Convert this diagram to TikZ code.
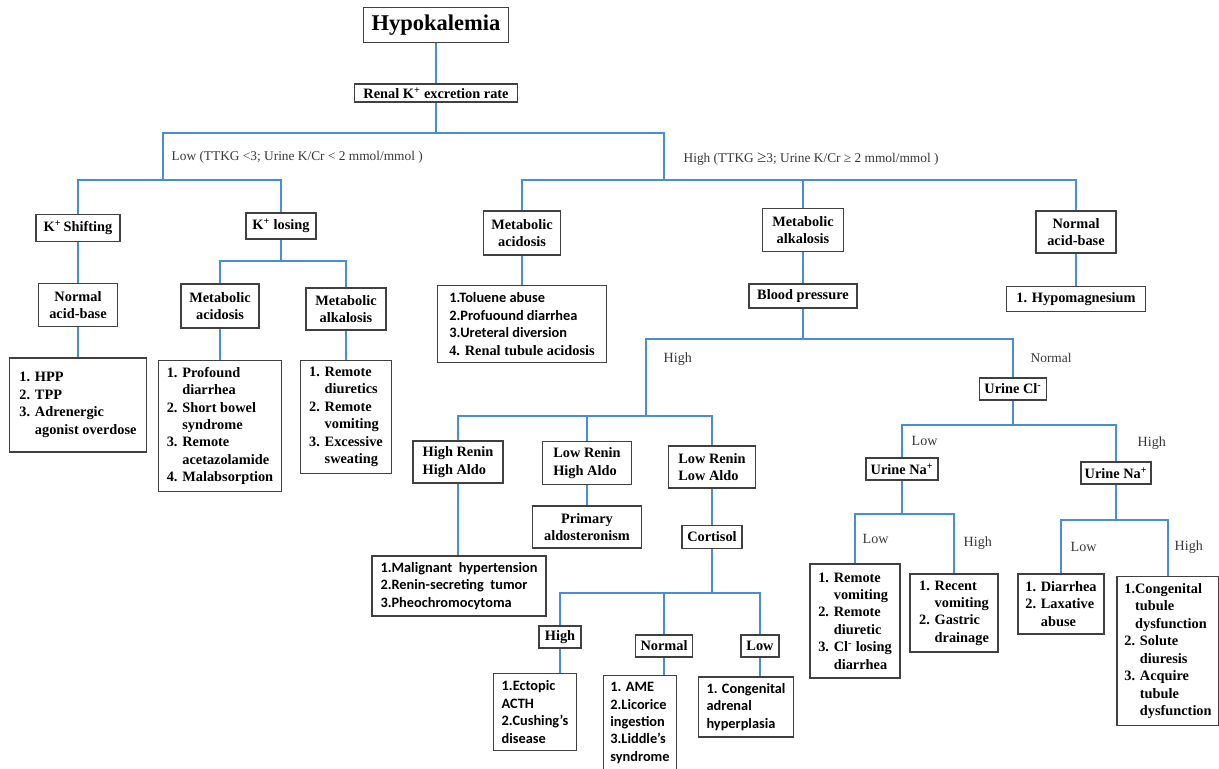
\documentclass[tikz,border=0pt]{standalone}
\usepackage{fontspec}
\setmainfont{Liberation Serif}
\newfontfamily\calib{Carlito}
\definecolor{linkblue}{RGB}{72,142,212}
\definecolor{boxgray}{RGB}{64,64,64}
\definecolor{labelgray}{RGB}{55,55,55}
\tikzset{
  link/.style={draw=linkblue, line width=1.3pt},
  headbox/.style={draw=boxgray, line width=1.1pt, fill=white, align=center, inner sep=2pt, font=\bfseries\fontsize{10.2}{12.4}\selectfont},
  listbox/.style={headbox, align=left},
  sanslist/.style={listbox, font=\calib\bfseries\fontsize{10.2}{12.4}\selectfont},
  branchlabel/.style={font=\fontsize{10}{12}\selectfont, text=labelgray, inner sep=1pt, anchor=west},
  toplabel/.style={branchlabel, font=\fontsize{9.5}{11}\selectfont}
}

\begin{document}
\begin{tikzpicture}[x=0.025cm, y=-0.025cm]
  \useasboundingbox (0,0) rectangle (1219,769);

  % top of the tree
  \node[headbox, minimum width=3.63cm, minimum height=0.88cm, font=\bfseries\fontsize{16}{19}\selectfont] (hypo) at (436,25) {Hypokalemia};
  \node[headbox, minimum width=4.08cm, minimum height=0.45cm, inner sep=1pt] (renal) at (436,93) {Renal K\textsuperscript{+} excretion rate};
  \coordinate (lowj) at (163,180);
  \coordinate (highj) at (664,180);
  \node[toplabel] (lowlbl) at (170,157) {Low (TTKG <3; Urine K/Cr < 2 mmol/mmol )};
  \node[toplabel] (highlbl) at (682,159) {High (TTKG {\large ≥}3; Urine K/Cr ≥ 2 mmol/mmol )};

  % low excretion side
  \node[headbox, minimum width=2.1cm, minimum height=0.68cm] (kshift) at (78,228) {K\textsuperscript{+}\,Shifting};
  \node[headbox, minimum width=1.75cm, minimum height=0.65cm] (klose) at (281,226) {K\textsuperscript{+} losing};
  \node[headbox, minimum width=1.98cm, minimum height=1.08cm] (nab1) at (78,305) {Normal\\acid-base};
  \node[headbox, minimum width=1.95cm, minimum height=1.1cm] (macid1) at (220,306) {Metabolic\\acidosis};
  \node[headbox, minimum width=2.0cm, minimum height=1.05cm] (malk1) at (346,309) {Metabolic\\alkalosis};
  \node[listbox, minimum width=3.43cm, minimum height=2.35cm] (hpp) at (78,405)
    {1. HPP\\2. TPP\\3. Adrenergic\\\phantom{3. }agonist overdose};
  \node[listbox, minimum width=3.08cm, minimum height=3.28cm] (prof) at (220,426)
    {1. Profound\\\phantom{1. }diarrhea\\2. Short bowel\\\phantom{2. }syndrome\\3. Remote\\\phantom{3. }acetazolamide\\4. Malabsorption};
  \node[listbox, minimum width=2.28cm, minimum height=2.83cm] (remdiur) at (346,417)
    {1. Remote\\\phantom{1. }diuretics\\2. Remote\\\phantom{2. }vomiting\\3. Excessive\\\phantom{3. }sweating};

  % high excretion side
  \node[headbox, minimum width=1.93cm, minimum height=1.1cm] (macid2) at (522,233) {Metabolic\\acidosis};
  \node[listbox, minimum width=4.23cm, minimum height=1.93cm] (toluene) at (522,324)
    {{\calib 1.Toluene abuse}\\{\calib 2.Profuound diarrhea}\\{\calib 3.Ureteral diversion}\\4. Renal tubule acidosis};
  \node[headbox, minimum width=2.03cm, minimum height=1.08cm] (malk2) at (803,230) {Metabolic\\alkalosis};
  \node[headbox, minimum width=2.7cm, minimum height=0.6cm] (bp) at (803,296) {Blood pressure};
  \node[headbox, minimum width=2.0cm, minimum height=1.05cm] (nab2) at (1076,232) {Normal\\acid-base};
  \node[headbox, minimum width=3.48cm, minimum height=0.63cm] (hypomg) at (1076,299) {1. Hypomagnesium};

  % blood pressure high
  \coordinate (reninj) at (646,416);
  \node[branchlabel] (bphigh) at (662,359) {High};
  \node[listbox, minimum width=2.25cm, minimum height=1.05cm] (hrha) at (458,462) {High Renin\\High Aldo};
  \node[listbox, minimum width=2.23cm, minimum height=1.08cm] (lrha) at (587,463) {Low Renin\\High Aldo};
  \node[listbox, minimum width=2.18cm, minimum height=1.05cm] (lrla) at (712,467) {Low Renin\\Low Aldo};
  \node[headbox, minimum width=2.73cm, minimum height=1.05cm] (primary) at (587,527) {Primary\\aldosteronism};
  \node[headbox, minimum width=1.5cm, minimum height=0.58cm] (cortisol) at (712,537) {Cortisol};
  \node[sanslist, minimum width=4.35cm, minimum height=1.5cm] (malig) at (459,586)
    {1.Malignant~ hypertension\\2.Renin-secreting~ tumor\\3.Pheochromocytoma};
  \node[headbox, minimum width=1.05cm, minimum height=0.55cm] (chigh) at (560,637) {High};
  \node[headbox, minimum width=1.43cm, minimum height=0.55cm] (cnorm) at (664,646) {Normal};
  \node[headbox, minimum width=0.95cm, minimum height=0.55cm] (clow) at (760,646) {Low};
  \node[sanslist, minimum width=2.08cm, minimum height=1.93cm] (ectopic) at (535,712)
    {1.Ectopic\\ACTH\\2.Cushing’s\\disease};
  \node[sanslist, minimum width=1.83cm, minimum height=2.38cm] (ame) at (640,723)
    {1. AME\\2.Licorice\\ingestion\\3.Liddle’s\\syndrome};
  \node[sanslist, minimum width=2.38cm, minimum height=1.5cm] (cah) at (746,707)
    {1. Congenital\\adrenal\\hyperplasia};

  % blood pressure normal
  \node[branchlabel, font=\fontsize{9.5}{11}\selectfont] (bpnorm) at (1029,358) {Normal};
  \node[headbox, minimum width=1.68cm, minimum height=0.55cm] (ucl) at (1013,389) {Urine Cl\textsuperscript{-}};
  \node[branchlabel] (cllow) at (910,441) {Low};
  \node[branchlabel] (clhigh) at (1136,443) {High};
  \node[headbox, minimum width=1.8cm, minimum height=0.55cm] (una1) at (902,469) {Urine Na\textsuperscript{+}};
  \node[headbox, minimum width=1.75cm, minimum height=0.55cm] (una2) at (1116,473) {Urine Na\textsuperscript{+}};
  \node[branchlabel] (na1low) at (861,539) {Low};
  \node[branchlabel] (na1high) at (962,543) {High};
  \node[branchlabel] (na2low) at (1069,547) {Low};
  \node[branchlabel] (na2high) at (1173,547) {High};
  \node[listbox, minimum width=2.25cm, minimum height=2.85cm] (remvom) at (855,621)
    {1. Remote\\\phantom{1. }vomiting\\2. Remote\\\phantom{2. }diuretic\\3. Cl\textsuperscript{-} losing\\\phantom{3. }diarrhea};
  \node[listbox, minimum width=2.2cm, minimum height=1.95cm] (recvom) at (954,613)
    {1. Recent\\\phantom{1. }vomiting\\2. Gastric\\\phantom{2. }drainage};
  \node[listbox, minimum width=2.15cm, minimum height=1.5cm] (diarr) at (1061,604)
    {1. Diarrhea\\2. Laxative\\\phantom{2. }abuse};
  \node[listbox, minimum width=2.55cm, minimum height=3.73cm] (congtub) at (1168,651)
    {1.Congenital\\\phantom{1.}tubule\\\phantom{1.}dysfunction\\2. Solute\\\phantom{2. }diuresis\\3. Acquire\\\phantom{3. }tubule\\\phantom{3. }dysfunction};

  % connectors
  \draw[link] (hypo) -- (renal);
  \draw[link] (renal.south) -- ++(0,30) -| (lowj);
  \draw[link] (renal.south) -- ++(0,30) -| (highj);
  \foreach \ch in {kshift,klose} \draw[link] (lowj) -| (\ch.north);
  \foreach \ch in {macid2,malk2,nab2} \draw[link] (highj) -| (\ch.north);
  \draw[link] (kshift.south) -- (kshift.south |- nab1.north);
  \draw[link] (nab1.south) -- (nab1.south |- hpp.north);
  \foreach \ch in {macid1,malk1} \draw[link] (klose.south) -- ++(0,21) -| (\ch.north);
  \draw[link] (macid1.south) -- (macid1.south |- prof.north);
  \draw[link] (malk1.south) -- (malk1.south |- remdiur.north);
  \draw[link] (macid2.south) -- (macid2.south |- toluene.north);
  \draw[link] (malk2.south) -- (malk2.south |- bp.north);
  \draw[link] (nab2.south) -- (nab2.south |- hypomg.north);
  \draw[link] (bp.south) -- ++(0,30) -| (reninj);
  \draw[link] (bp.south) -- ++(0,30) -| (ucl.north);
  \foreach \ch in {hrha,lrha,lrla} \draw[link] (reninj) -| (\ch.north);
  \draw[link] (hrha.south) -- (hrha.south |- malig.north);
  \draw[link] (lrha.south) -- (lrha.south |- primary.north);
  \draw[link] (lrla.south) -- (lrla.south |- cortisol.north);
  \foreach \ch in {chigh,cnorm,clow} \draw[link] (cortisol.south) -- ++(0,44) -| (\ch.north);
  \draw[link] (chigh.south) -- (chigh.south |- ectopic.north);
  \draw[link] (cnorm.south) -- (cnorm.south |- ame.north);
  \draw[link] (clow.south) -- (clow.south |- cah.north);
  \foreach \ch in {una1,una2} \draw[link] (ucl.south) -- ++(0,24) -| (\ch.north);
  \foreach \ch in {remvom,recvom} \draw[link] (una1.south) -- ++(0,33) -| (\ch.north);
  \foreach \ch in {diarr,congtub} \draw[link] (una2.south) -- ++(0,35) -| (\ch.north);
\end{tikzpicture}
\end{document}
